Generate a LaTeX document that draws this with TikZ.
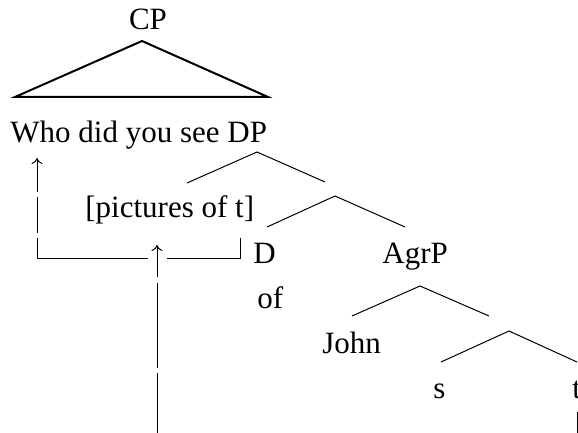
\documentclass[tikz,border=0pt]{standalone}
\usepackage{fontspec}
\setmainfont{Liberation Serif}
\usetikzlibrary{arrows.meta}
\begin{document}
\begin{tikzpicture}[x=0.5pt,y=-0.5pt]
\tikzstyle{word}=[inner sep=0pt, anchor=base west, font=\fontsize{15.5}{18}\selectfont]
\tikzstyle{branch}=[line width=0.5pt]
\tikzstyle{bigtri}=[line width=1pt]
\tikzstyle{move}=[line width=0.5pt,->,>={To[length=3pt,width=5.5pt]}]

\useasboundingbox (0,0) rectangle (578,433);

%nodes
\node (cp) [word, anchor=base] at (148,30) {CP};
\node (who) [word] at (10,142) {Who did you see DP};
\node (pict) [word] at (85,217) {[pictures of t]};
\node (d) [word] at (253,263) {D};
\node (agrp) [word] at (382,263) {AgrP};
\node (of) [word] at (257,308) {of};
\node (john) [word] at (322,353) {John};
\node (s) [word] at (433,398) {s};
\node (t) [word] at (572,398) {t};

%branch points
\coordinate (tritop) at (142,41);
\coordinate (trileft) at (15,97);
\coordinate (triright) at (268,97);
\coordinate (dptop) at (257,152);
\coordinate (dpleft) at (187,183);
\coordinate (dpright) at (325,182);
\coordinate (dbartop) at (335,196);
\coordinate (dbarleft) at (267,227);
\coordinate (dbarright) at (405,227);
\coordinate (agrtop) at (420,286);
\coordinate (agrleft) at (352,316);
\coordinate (agrright) at (489,316);
\coordinate (agrbartop) at (509,331);
\coordinate (agrbarleft) at (441,362);
\coordinate (agrbarright) at (577,362);

%movement ends
\coordinate (whotip) at (37,158);
\coordinate (pictrace) at (240,238);
\coordinate (picttip) at (157,245);
\coordinate (ttrace) at (577,412);

%lines
\draw [bigtri] (tritop) -- (trileft) -- (triright) -- cycle;
\draw [branch] (dpleft) -- (dptop) -- (dpright);
\draw [branch] (dbarleft) -- (dbartop) -- (dbarright);
\draw [branch] (agrleft) -- (agrtop) -- (agrright);
\draw [branch] (agrbarleft) -- (agrbartop) -- (agrbarright);

%movement
\draw [move, dash pattern=on 46.5pt off 9.5pt on 65.5pt off 2.5pt on 18pt off 2.5pt on 30pt]
  (pictrace) -- ++(0,20) -| (whotip);
\draw [move, dash pattern=on 250.5pt off 2.5pt on 42.5pt off 3pt on 60pt]
  (ttrace) -- (ttrace |- 0,433) -| (picttip);

\end{tikzpicture}
\end{document}
